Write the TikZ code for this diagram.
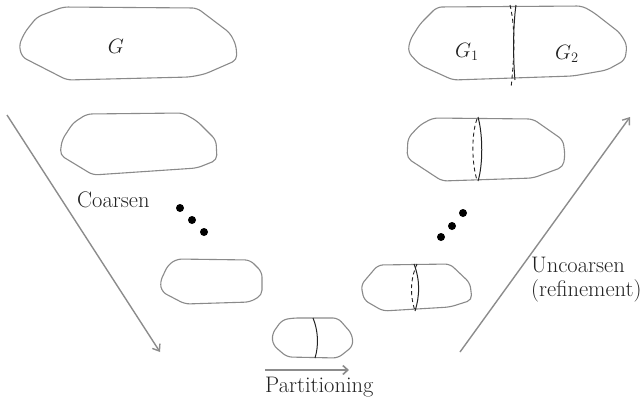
\documentclass[tikz,border=0pt]{standalone}
\usetikzlibrary{arrows.meta}
\definecolor{outl}{HTML}{8A8A8A}
\definecolor{arr}{HTML}{8C8C8C}
\definecolor{txt}{HTML}{222222}
\begin{document}
\begin{tikzpicture}[x=1pt,y=-1pt,
  blob/.style={draw=outl,line width=1.1pt,rounded corners=5pt},
  cutline/.style={draw=txt,line width=1pt},
  cutdash/.style={draw=txt,line width=0.9pt,dash pattern=on 4pt off 3pt},
  bigarrow/.style={draw=arr,line width=1.4pt,-{Straight Barb[length=6pt,width=9pt,line width=1.4pt]}},
  label/.style={text=txt,font=\fontsize{22.5}{26}\selectfont,inner sep=0pt},
  dotfill/.style={fill=black}]
\useasboundingbox (0,0) rectangle (644,400);
% G blob
\draw[blob] (37,17) -- (63,7) -- (197,8) -- (230,33) -- (236,45) -- (237,60) -- (205,74) -- (190,77) -- (67,80) -- (22,57) -- (19,45) -- (25,32) -- cycle;
\node[label] (g) at (116,46) {$G$};
% second left
\draw[blob] (73,123) -- (87,114) -- (183,113) -- (197,121) -- (216,140) -- (217,160) -- (197,168) -- (93,175) -- (60,155) -- (62,140) -- cycle;
% third left
\draw[blob] (168,265) -- (177,259) -- (250,260) -- (262,272) -- (262,295) -- (250,302) -- (185,304) -- (162,292) -- (160,282) -- cycle;
% bottom
\draw[blob] (282,320) -- (293,318) -- (338,318) -- (352,334) -- (353,346) -- (338,358) -- (287,357) -- (273,345) -- (272,334) -- cycle;
\draw[cutline] (313,318) .. controls (318,330) and (319,345) .. (315,358);
% right small
\draw[blob] (378,265) -- (450,264) -- (470,283) -- (472,300) -- (450,307) -- (383,311) -- (364,300) -- (361,285) -- cycle;
\draw[cutline] (414,264) .. controls (420,280) and (420,295) .. (415,311);
\draw[cutdash] (417,264) .. controls (410,280) and (410,295) .. (415,311);
% right second
\draw[blob] (420,125) -- (433,118) -- (533,119) -- (563,140) -- (565,155) -- (563,167) -- (533,178) -- (442,181) -- (407,158) -- (408,138) -- cycle;
\draw[cutline] (478,117) .. controls (483,135) and (483,165) .. (478,181);
\draw[cutdash] (477,119) .. controls (471,135) and (472,165) .. (477,180);
% right top
\draw[blob] (420,24) -- (437,7) -- (582,6) -- (593,12) -- (620,33) -- (627,45) -- (625,60) -- (607,70) -- (573,76) -- (453,80) -- (420,65) -- (408,52) -- (410,40) -- cycle;
\draw[cutline] (516,5) .. controls (513,25) and (513,60) .. (515,80);
\draw[cutdash] (510,5) .. controls (516,30) and (514,60) .. (511,88);
\node[label] (g1) at (467,52) {$G_1$};
\node[label] (g2) at (567,54) {$G_2$};
% dots
\fill[dotfill] (180,208) circle (4pt) (192,220) circle (4pt) (204,232) circle (4pt);
\fill[dotfill] (441,237) circle (4pt) (452,226) circle (4pt) (463,213) circle (4pt);
% arrows
\coordinate (a1s) at (7,115);
\coordinate (a1e) at (160,352);
\draw[bigarrow] (a1s) -- (a1e);
\coordinate (a2s) at (460,352);
\coordinate (a2e) at (630,117);
\draw[bigarrow] (a2s) -- (a2e);
\coordinate (a3s) at (265,370);
\coordinate (a3e) at (349,370);
\draw[bigarrow,line width=2.2pt,-{Straight Barb[length=5pt,width=9pt,line width=1.6pt]}] (a3s) -- (a3e);
% labels
\node[label,anchor=base west] (coarsen) at (77,207) {Coarsen};
\node[label,anchor=base west] (part) at (265,392) {Partitioning};
\node[label,anchor=base west] (unc) at (531,272) {Uncoarsen};
\node[label,anchor=base west] (ref) at (531,296) {(refinement)};
\end{tikzpicture}
\end{document}
